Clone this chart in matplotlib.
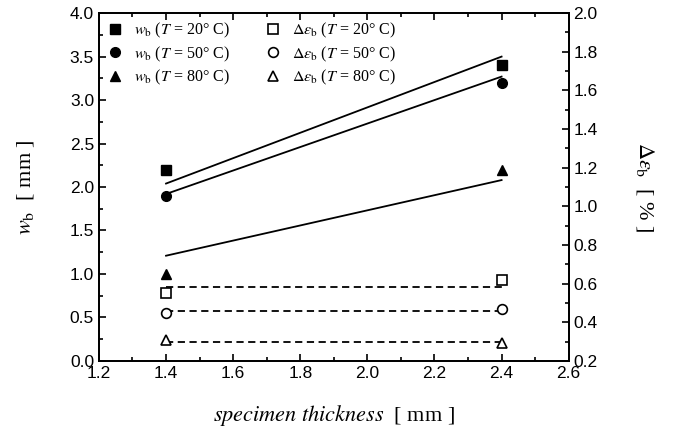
import numpy as np
import matplotlib.pyplot as plt
from matplotlib.ticker import MultipleLocator

plt.rcParams['font.family'] = ['Liberation Sans', 'DejaVu Sans']
plt.rcParams['mathtext.fontset'] = 'stix'

# specimen thickness [mm]
thick = [1.4, 2.4]
temps = [20, 50, 80]

# crack band width w_b [mm]
wb_20 = [2.2, 3.4]
wb_50 = [1.9, 3.2]
wb_80 = [1.0, 2.2]

# fitted trends for w_b
fit_20 = [2.04, 3.5]
fit_50 = [1.92, 3.27]
fit_80 = [1.21, 2.08]

# strain jump [%]
de_20 = [0.55, 0.62]
de_50 = [0.45, 0.47]
de_80 = [0.31, 0.295]
de_mean = [0.58, 0.46, 0.30]

fig = plt.figure(figsize=(6.73, 4.38), dpi=100)
ax = fig.add_axes([0.147, 0.176, 0.698, 0.794])
ax2 = ax.twinx()

ms = 7
h = []
h += ax.plot(thick, wb_20, 's', color='k', ms=ms, ls='none')
h += ax.plot(thick, wb_50, 'o', color='k', ms=ms, ls='none')
h += ax.plot(thick, wb_80, '^', color='k', ms=ms, ls='none')
for f in (fit_20, fit_50, fit_80):
    ax.plot(thick, f, 'k-', lw=1.3)

h += ax2.plot(thick, de_20, 's', mfc='white', mec='k', ms=ms, mew=1.2, ls='none')
h += ax2.plot(thick, de_50, 'o', mfc='white', mec='k', ms=ms, mew=1.2, ls='none')
h += ax2.plot(thick, de_80, '^', mfc='white', mec='k', ms=ms, mew=1.2, ls='none')
for m in de_mean:
    ax2.plot(thick, [m, m], 'k--', lw=1.3, dashes=(4, 2.5), zorder=1)

ax.set_xlim(1.2, 2.6)
ax.set_ylim(0.0, 4.0)
ax2.set_ylim(0.2, 2.0)
ax.xaxis.set_major_locator(MultipleLocator(0.2))
ax.xaxis.set_minor_locator(MultipleLocator(0.1))
ax.yaxis.set_major_locator(MultipleLocator(0.5))
ax.yaxis.set_minor_locator(MultipleLocator(0.25))
ax2.yaxis.set_major_locator(MultipleLocator(0.2))
ax2.yaxis.set_minor_locator(MultipleLocator(0.1))
ax.xaxis.set_major_formatter(plt.FormatStrFormatter('%.1f'))
ax.yaxis.set_major_formatter(plt.FormatStrFormatter('%.1f'))
ax2.yaxis.set_major_formatter(plt.FormatStrFormatter('%.1f'))

ax.tick_params(which='both', direction='in', top=True, right=False, labelsize=12.5, width=1.2)
ax.tick_params(which='major', length=5)
ax.tick_params(which='minor', length=3)
ax2.tick_params(which='both', direction='in', labelsize=12.5, width=1.2)
ax2.tick_params(which='major', length=5)
ax2.tick_params(which='minor', length=3)
for a in (ax, ax2):
    for s in a.spines.values():
        s.set_linewidth(1.3)

serif = ['Liberation Serif', 'DejaVu Serif']
ax.set_ylabel(r'$w_\mathrm{b}$  [ mm ]', family=serif, fontsize=16, labelpad=24)
ax2.set_ylabel(r'$\Delta\varepsilon_\mathrm{b}$  [ % ]', family=serif, fontsize=16,
               rotation=270, labelpad=42)
ax.set_xlabel(r'$specimen\ thickness$  [ mm ]', family=serif, fontsize=16, labelpad=16)

labels = [r'$w_\mathrm{b}$ ($T$ = %d° C)' % t for t in temps] + \
         [r'$\Delta\varepsilon_\mathrm{b}$ ($T$ = %d° C)' % t for t in temps]
ax2.legend(h, labels, ncol=2, loc='upper left', frameon=False,
           prop={'family': serif, 'size': 11.5}, handletextpad=0.7,
           columnspacing=2.2, labelspacing=0.25, borderaxespad=0.1,
           handlelength=1.0)

fig.savefig('out.png', dpi=100)
